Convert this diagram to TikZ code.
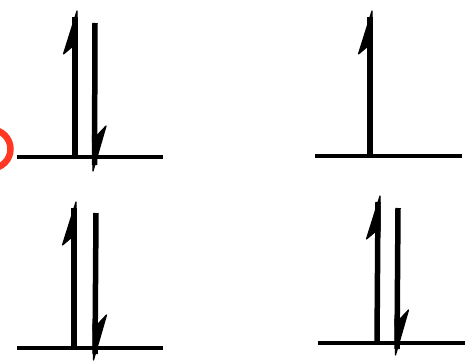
\documentclass[tikz,border=0pt]{standalone}
\usetikzlibrary{calc}
\tikzset{
  shaft/.style={line width=5.5pt, black},
  baseline/.style={line width=4.5pt, black},
  headfill/.style={fill=black, draw=black, line width=1.2pt, line join=round},
  circ/.style={draw={rgb,255:red,255;green,55;blue,35}, line width=6.5pt},
}
% up harpoon: base point #1, tip point #2 (barb on the left)
\newcommand\myuph[2]{%
  \draw[shaft] (#1) -- ($(#2)+(0,6)$);
  \fill[headfill] ($(#2)+(2,0)$) -- ($(#2)+(-11.5,43)$) -- ($(#2)+(-2,35)$) -- ($(#2)+(2,35)$) -- cycle;
}
% down harpoon: top point #1, tip point #2 (barb on the right)
\newcommand\mydownh[2]{%
  \draw[shaft] (#1) -- ($(#2)+(0,-6)$);
  \fill[headfill] ($(#2)+(-1.5,0)$) -- ($(#2)+(11.5,-45)$) -- ($(#2)+(3,-36)$) -- ($(#2)+(-2,-36)$) -- cycle;
}
\begin{document}
\begin{tikzpicture}[x=1pt,y=-1pt]
\useasboundingbox (0,0) rectangle (471,361);
\clip (0,0) rectangle (471,361);
% red circle partly visible
\draw[circ] (-9,149) circle (19.5);
% panel 1
\coordinate (b1l) at (17,157); \coordinate (b1r) at (163,157);
\draw[baseline] (b1l) -- (b1r);
\coordinate (u1b) at (75,157); \coordinate (u1t) at (75,11);
\myuph{u1b}{u1t}
\coordinate (d1t) at (95,23); \coordinate (d1b) at (94.5,171);
\mydownh{d1t}{d1b}
% panel 2
\coordinate (b2l) at (315,156); \coordinate (b2r) at (462,156);
\draw[baseline] (b2l) -- (b2r);
\coordinate (u2b) at (370,156); \coordinate (u2t) at (370,11);
\myuph{u2b}{u2t}
% panel 3
\coordinate (b3l) at (17,348); \coordinate (b3r) at (163,348);
\draw[baseline] (b3l) -- (b3r);
\coordinate (u3b) at (74,348); \coordinate (u3t) at (74,202);
\myuph{u3b}{u3t}
\coordinate (d3t) at (96,213); \coordinate (d3b) at (95,360);
\mydownh{d3t}{d3b}
% panel 4
\coordinate (b4l) at (318,343); \coordinate (b4r) at (465,343);
\draw[baseline] (b4l) -- (b4r);
\coordinate (u4b) at (377,343); \coordinate (u4t) at (378,196);
\myuph{u4b}{u4t}
\coordinate (d4t) at (398,208); \coordinate (d4b) at (397,355);
\mydownh{d4t}{d4b}
\end{tikzpicture}
\end{document}
